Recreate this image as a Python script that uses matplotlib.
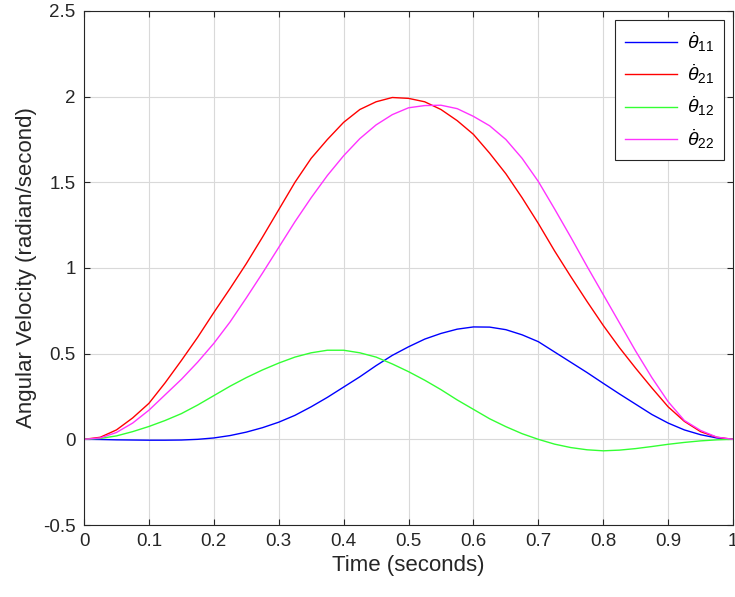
import matplotlib
matplotlib.use('Agg')
import matplotlib.pyplot as plt

plt.rcParams['font.family'] = ['Liberation Sans', 'DejaVu Sans']
plt.rcParams['mathtext.fontset'] = 'custom'
plt.rcParams['mathtext.rm'] = 'Liberation Sans'
plt.rcParams['mathtext.it'] = 'Liberation Sans:italic'

# time samples (seconds) and angular velocities
t = [0, .025, .05, .075, .1, .125, .15, .175, .2, .225,
     .25, .275, .3, .325, .35, .375, .4, .425, .45, .475,
     .5, .525, .55, .575, .6, .625, .65, .675, .7, .725,
     .75, .775, .8, .825, .85, .875, .9, .925, .95, .975, 1]
w11 = [0, -.001, -.003, -.004, -.005, -.005, -.004, 0, .008, .022,
       .042, .068, .10, .14, .19, .245, .305, .365, .43, .49,
       .54, .585, .618, .643, .656, .655, .64, .61, .57, .51,
       .45, .39, .327, .265, .205, .145, .095, .055, .027, .008, 0]
w21 = [0, .012, .055, .125, .21, .33, .46, .595, .74, .88,
       1.025, 1.18, 1.34, 1.50, 1.64, 1.75, 1.85, 1.925, 1.97, 1.995,
       1.99, 1.97, 1.925, 1.86, 1.78, 1.67, 1.55, 1.41, 1.26, 1.10,
       .95, .805, .665, .535, .415, .30, .19, .105, .045, .012, 0]
w12 = [0, .005, .02, .045, .075, .11, .15, .20, .255, .31,
       .36, .405, .445, .48, .505, .52, .52, .505, .48, .44,
       .395, .345, .29, .23, .175, .12, .074, .033, .0, -.028,
       -.048, -.061, -.067, -.063, -.054, -.042, -.029, -.018, -.009, -.003, 0]
w22 = [0, .008, .04, .095, .17, .26, .35, .45, .56, .685,
       .825, .97, 1.12, 1.27, 1.41, 1.54, 1.655, 1.755, 1.835, 1.895,
       1.935, 1.948, 1.95, 1.93, 1.885, 1.83, 1.75, 1.64, 1.505, 1.345,
       1.18, 1.01, .845, .68, .515, .36, .22, .11, .052, .013, 0]

labels = [r'$\dot{\theta}_{11}$', r'$\dot{\theta}_{21}$',
          r'$\dot{\theta}_{12}$', r'$\dot{\theta}_{22}$']
colors = [(0, 0, 1), (1, 0, 0), (0.2, 1, 0.2), (1, 0.2, 1)]

fig = plt.figure(figsize=(7.35, 5.97), dpi=100)
ax = fig.add_axes([0.1143, 0.1206, 0.8830, 0.8610])

for y, lab, c in zip([w11, w21, w12, w22], labels, colors):
    ax.plot(t, y, color=c, lw=1.0, label=lab)

ax.set_xlim(0, 1)
ax.set_ylim(-0.5, 2.5)
ax.set_xticks([0, .1, .2, .3, .4, .5, .6, .7, .8, .9, 1])
ax.set_xticklabels(['0', '0.1', '0.2', '0.3', '0.4', '0.5', '0.6', '0.7',
                    '0.8', '0.9', '1'])
ax.set_yticks([-0.5, 0, 0.5, 1, 1.5, 2, 2.5])
ax.set_yticklabels(['-0.5', '0', '0.5', '1', '1.5', '2', '2.5'])
ax.grid(True, color=(0.85, 0.85, 0.85), lw=0.8)
ax.set_axisbelow(True)
ax.tick_params(direction='in', length=4, width=0.8, colors=(0.15, 0.15, 0.15),
               labelsize=13.5, top=True, right=True, pad=6)
for s in ax.spines.values():
    s.set_color((0.15, 0.15, 0.15))
    s.set_linewidth(0.8)

ax.set_xlabel('Time (seconds)', fontsize=16, color=(0.15, 0.15, 0.15), labelpad=3)
ax.set_ylabel('Angular Velocity (radian/second)', fontsize=16,
              color=(0.15, 0.15, 0.15), labelpad=4)

leg = ax.legend(loc='upper right', bbox_to_anchor=(0.986, 0.982),
                borderaxespad=0, fontsize=14, handlelength=2.7,
                labelspacing=0.45, fancybox=False, framealpha=1,
                edgecolor=(0.15, 0.15, 0.15), borderpad=0.5, handletextpad=0.5)
leg.get_frame().set_linewidth(0.8)

fig.savefig('out.png', dpi=100)
